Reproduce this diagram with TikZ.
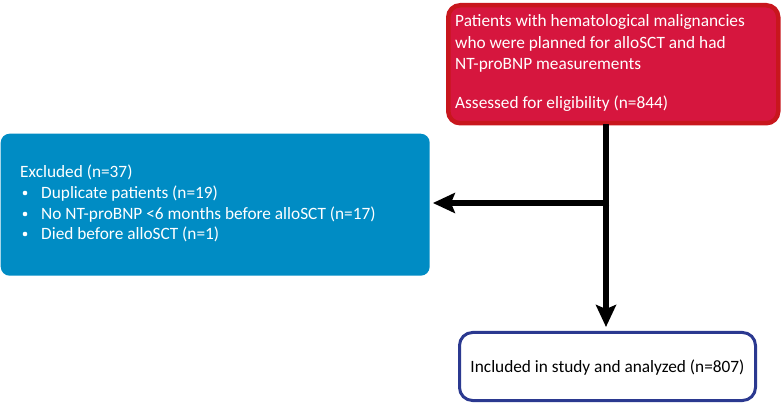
\documentclass[tikz,border=0pt]{standalone}
\usepackage{fontspec}
\setmainfont{Carlito}
\usetikzlibrary{arrows.meta}
\definecolor{redfill}{HTML}{D6163E}
\definecolor{redborder}{HTML}{C8161D}
\definecolor{bluefill}{HTML}{008CC4}
\definecolor{navyborder}{HTML}{2B3990}
\begin{document}
\begin{tikzpicture}[x=1pt,y=-1pt,
  txt/.style={font=\fontsize{17.3}{21}\selectfont, anchor=base west, inner sep=0pt},
  arrowline/.style={line width=6.5pt, -{Stealth[length=22pt,width=20pt,inset=4pt]}}]
\useasboundingbox (0,0) rectangle (782,403);
% red box
\node[draw=redborder, fill=redfill, line width=4.5pt, rounded corners=12pt, minimum width=330pt, minimum height=118pt, anchor=north west, inner sep=0pt] (top) at (446,3) {};
\node[txt, text=white] (t1) at (455,27) {Patients with hematological malignancies};
\node[txt, text=white] (t2) at (455,49) {who were planned for alloSCT and had};
\node[txt, text=white] (t3) at (455,70) {NT-proBNP measurements};
\node[txt, text=white] (t4) at (455,109) {Assessed for eligibility (n=844)};
% blue box
\node[fill=bluefill, rounded corners=9pt, minimum width=429pt, minimum height=142pt, anchor=north west, inner sep=0pt] (excl) at (0.5,133.5) {};
\node[txt, text=white] (e0) at (20,178) {Excluded (n=37)};
\node[txt, text=white] (e1) at (41,199) {Duplicate patients (n=19)};
\node[txt, text=white] (e2) at (41,219.5) {No NT-proBNP <6 months before alloSCT (n=17)};
\node[txt, text=white] (e3) at (41,240) {Died before alloSCT (n=1)};
\foreach \yy in {193,214,234} \fill[white] (25,\yy) circle (2.3pt);
% bottom box
\node[draw=navyborder, fill=white, line width=3pt, rounded corners=13pt, minimum width=296pt, minimum height=68pt, anchor=north west, inner sep=0pt] (incl) at (458,331) {};
\node[font=\fontsize{17.3}{21}\selectfont, inner sep=0pt] (it) at ([yshift=-1.5pt]incl.center) {Included in study and analyzed (n=807)};
% arrows
\coordinate (split) at (606,203);
\draw[arrowline, shorten <=-1pt, shorten >=4pt] (top.south -| split) -- (incl.north -| split);
\draw[arrowline, shorten >=3pt] ([xshift=3.25pt]split) -- (split -| excl.east);
\end{tikzpicture}
\end{document}
